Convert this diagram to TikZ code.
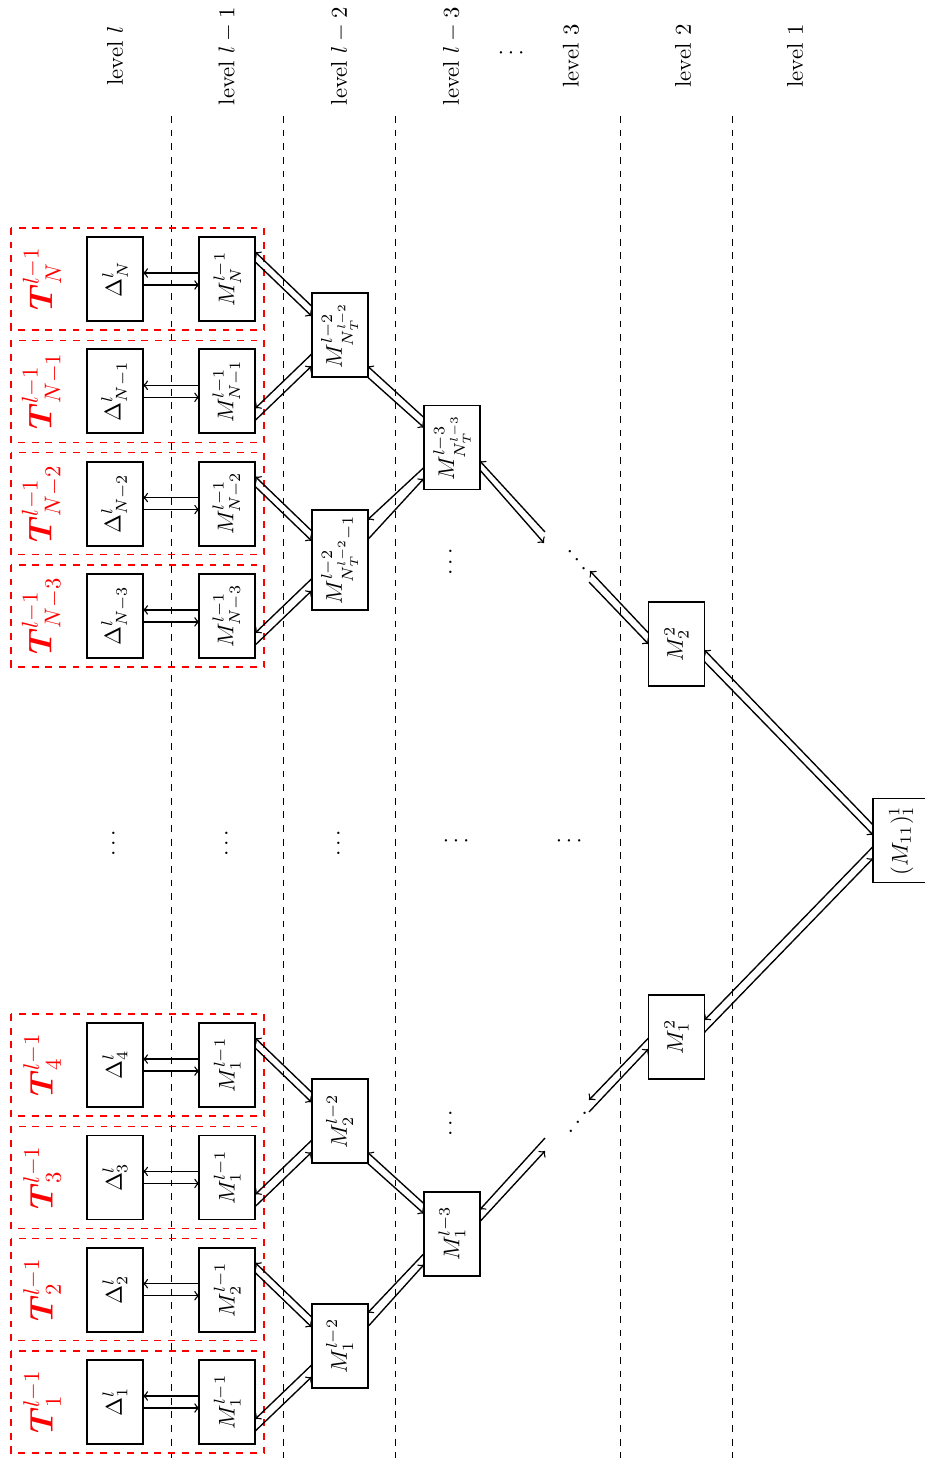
\documentclass[tikz,border=0pt]{standalone}
\usepackage{amsmath}
\usepackage{graphicx}
\usetikzlibrary{calc}
\newcommand{\pxu}{0.44pt}
\newcommand{\hpair}[2]{%
  \draw[arr] ($(#2)+(-28,-6)$) -- ($(#1)+(28,-6)$);
  \draw[arr] ($(#1)+(28,6)$) -- ($(#2)+(-28,6)$);}
\newcommand{\edgepair}[6]{%
  \draw[arr] ($(#2)+(-28,#3)$) -- ($(#1)+(28,#4)$);
  \draw[arr] ($(#1)+(28,#5)$) -- ($(#2)+(-28,#6)$);}
\newcommand{\grprect}[1]{\draw[grp] (11,#1-51) rectangle (264,#1+51);}
\tikzset{
  tbox/.style={draw, thick, rotate=90, minimum width=84*\pxu, minimum height=56*\pxu, inner sep=2pt},
  tlab/.style={rotate=90, text=red, font=\Large, inner sep=1pt},
  lvl/.style={rotate=90, inner sep=1pt},
  grp/.style={draw=red, dashed, semithick},
  sep/.style={dashed, semithick},
  arr/.style={->, semithick},
  dotsv/.style={rotate=90, inner sep=0pt},
}
\begin{document}
\begin{tikzpicture}[x=0.44pt, y=-0.44pt]
\useasboundingbox (0,0) rectangle (925,1461);

% level labels
\node[lvl] (L0) at (115,56) {level $l$};
\node[lvl] (L1) at (227.5,56) {level $l-1$};
\node[lvl] (L2) at (340,56) {level $l-2$};
\node[lvl] (L3) at (452,56) {level $l-3$};
\node[inner sep=0pt] (Ld) at (513,53) {$\cdots$};
\node[lvl] (L4) at (571,56) {level 3};
\node[lvl] (L5) at (683,56) {level 2};
\node[lvl] (L6) at (795,56) {level 1};

% separators
\foreach \xx in {171.2,283.5,395.8,620.4,732.7}
  \draw[sep] (\xx,116) -- (\xx,1458);

% groups
\grprect{1402}
\grprect{1289.7}
\grprect{1177.4}
\grprect{1065.1}
\grprect{615.9}
\grprect{503.6}
\grprect{391.3}
\grprect{279}

% red labels
\node[tlab] (T1) at (42,1402) {$\boldsymbol{T}^{l-1}_1$};
\node[tlab] (T2) at (42,1289.7) {$\boldsymbol{T}^{l-1}_2$};
\node[tlab] (T3) at (42,1177.4) {$\boldsymbol{T}^{l-1}_3$};
\node[tlab] (T4) at (42,1065.1) {$\boldsymbol{T}^{l-1}_4$};
\node[tlab] (TN3) at (42,615.9) {$\boldsymbol{T}^{l-1}_{N-3}$};
\node[tlab] (TN2) at (42,503.6) {$\boldsymbol{T}^{l-1}_{N-2}$};
\node[tlab] (TN1) at (42,391.3) {$\boldsymbol{T}^{l-1}_{N-1}$};
\node[tlab] (TN) at (42,279) {$\boldsymbol{T}^{l-1}_{N}$};

% level l
\node[tbox] (D1) at (115,1402) {$\Delta^l_1$};
\node[tbox] (D2) at (115,1289.7) {$\Delta^l_2$};
\node[tbox] (D3) at (115,1177.4) {$\Delta^l_3$};
\node[tbox] (D4) at (115,1065.1) {$\Delta^l_4$};
\node[tbox] (DN3) at (115,615.9) {$\Delta^l_{N-3}$};
\node[tbox] (DN2) at (115,503.6) {$\Delta^l_{N-2}$};
\node[tbox] (DN1) at (115,391.3) {$\Delta^l_{N-1}$};
\node[tbox] (DN) at (115,279) {$\Delta^l_{N}$};

% level l-1
\node[tbox] (A1) at (227.3,1402) {$M^{l-1}_1$};
\node[tbox] (A2) at (227.3,1289.7) {$M^{l-1}_2$};
\node[tbox] (A3) at (227.3,1177.4) {$M^{l-1}_1$};
\node[tbox] (A4) at (227.3,1065.1) {$M^{l-1}_1$};
\node[tbox] (AN3) at (227.3,615.9) {$M^{l-1}_{N-3}$};
\node[tbox] (AN2) at (227.3,503.6) {$M^{l-1}_{N-2}$};
\node[tbox] (AN1) at (227.3,391.3) {$M^{l-1}_{N-1}$};
\node[tbox] (AN) at (227.3,279) {$M^{l-1}_{N}$};

% level l-2
\node[tbox] (B1) at (339.6,1346) {$M^{l-2}_1$};
\node[tbox] (B2) at (339.6,1121.3) {$M^{l-2}_2$};
\node[tbox, minimum width=100*\pxu] (BN1) at (339.6,559.8) {$M^{l-2}_{N_T^{l-2}-1}$};
\node[tbox] (BN) at (339.6,335.1) {$M^{l-2}_{N_T^{l-2}}$};

% level l-3
\node[tbox] (C1) at (451.9,1233.6) {$M^{l-3}_1$};
\node[tbox] (CN) at (451.9,447.5) {$M^{l-3}_{N_T^{l-3}}$};

% level 2 and 1
\node[tbox] (E1) at (676.5,1037) {$M^2_1$};
\node[tbox] (E2) at (676.5,644) {$M^2_2$};
\node[tbox] (F) at (901.1,840.5) {$(M_{11})^1_1$};

% dots
\node[dotsv] (v0) at (114,841) {$\cdots$};
\node[dotsv] (v1) at (227,841) {$\cdots$};
\node[dotsv] (v2) at (339,841) {$\cdots$};
\node[inner sep=0pt] (h3) at (458,841) {$\cdots$};
\node[inner sep=0pt] (h4) at (571,841) {$\cdots$};
\node[dotsv] (vt) at (451,560) {$\cdots$};
\node[dotsv] (vb) at (451,1121) {$\cdots$};
\node[dotsv] (dt) at (570,560) {\scalebox{-1}[1]{$\ddots$}};
\node[dotsv] (db) at (571,1122) {$\ddots$};

% free ends
\coordinate (ft1a) at (545,532);
\coordinate (ft1b) at (544,543);
\coordinate (ft2a) at (590,571);
\coordinate (ft2b) at (589,582);
\coordinate (fb1a) at (545,1138);
\coordinate (fb1b) at (545,1151);
\coordinate (fb2a) at (589,1100);
\coordinate (fb2b) at (589,1112);

% level l <-> level l-1
\hpair{D1}{A1}
\hpair{D2}{A2}
\hpair{D3}{A3}
\hpair{D4}{A4}
\hpair{DN3}{AN3}
\hpair{DN2}{AN2}
\hpair{DN1}{AN1}
\hpair{DN}{AN}

% level l-1 <-> level l-2
\edgepair{A2}{B1}{-29}{-27}{-17}{-19}
\edgepair{A1}{B1}{19}{17}{29}{31}
\edgepair{A4}{B2}{-29}{-27}{-17}{-19}
\edgepair{A3}{B2}{19}{17}{29}{31}
\edgepair{AN2}{BN1}{-29}{-27}{-17}{-19}
\edgepair{AN3}{BN1}{19}{17}{29}{31}
\edgepair{AN}{BN}{-29}{-27}{-17}{-19}
\edgepair{AN1}{BN}{19}{17}{29}{31}

% level l-2 <-> level l-3
\edgepair{BN}{CN}{-30}{31}{42}{-20}
\edgepair{BN1}{CN}{20}{-40}{-20}{31}
\edgepair{B2}{C1}{-30}{31}{42}{-20}
\edgepair{B1}{C1}{20}{-33}{-19}{31}

% level l-3 <-> ...
\draw[arr] (ft1a) -- ($(CN)+(28,13.5)$);
\draw[arr] ($(CN)+(28,22.5)$) -- (ft1b);
\draw[arr] (fb1a) -- ($(C1)+(28,-24)$);
\draw[arr] ($(C1)+(28,-12)$) -- (fb1b);

% ... <-> level 2
\draw[arr] ($(E2)+(-28,-11)$) -- (ft2a);
\draw[arr] (ft2b) -- ($(E2)+(-28,0)$);
\draw[arr] ($(E1)+(-28,1)$) -- (fb2a);
\draw[arr] (fb2b) -- ($(E1)+(-28,12)$);

% level 2 <-> level 1
\edgepair{E2}{F}{-15.5}{6}{17.7}{-5.5}
\edgepair{E1}{F}{6}{-17}{-4.7}{17.8}
\end{tikzpicture}
\end{document}
